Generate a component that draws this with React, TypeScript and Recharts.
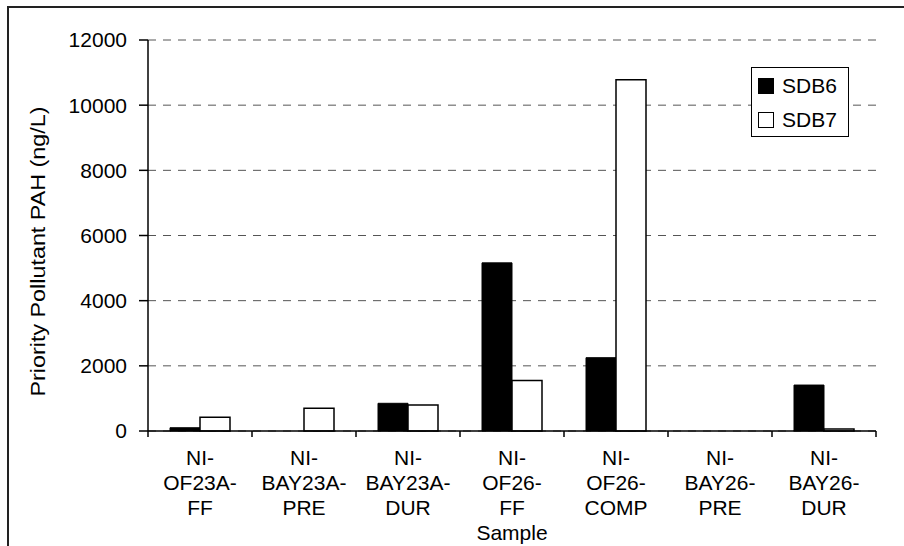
import React from "react";
import { BarChart, Bar, XAxis, YAxis, CartesianGrid } from "recharts";

const samples = [
  "NI-|OF23A-|FF",
  "NI-|BAY23A-|PRE",
  "NI-|BAY23A-|DUR",
  "NI-|OF26-|FF",
  "NI-|OF26-|COMP",
  "NI-|BAY26-|PRE",
  "NI-|BAY26-|DUR",
];
const sdb6 = [100, 0, 850, 5160, 2250, 0, 1410];
const sdb7 = [420, 700, 800, 1550, 10780, 0, 60];
const yTicks = [0, 2000, 4000, 6000, 8000, 10000, 12000];

const data = samples.map((s, i) => ({ sample: s, SDB6: sdb6[i], SDB7: sdb7[i] }));

const FONT = "'Liberation Sans', Arial, sans-serif";
const FS = 21;
const BAND = 104;

function SampleTick(props: any) {
  const { x, y, payload, index } = props;
  const lines = String(payload.value).split("|");
  const axisY = y - 8;
  return (
    <g>
      <line x1={x - BAND / 2} x2={x - BAND / 2} y1={axisY} y2={axisY + 6} stroke="#000" strokeWidth={1.5} />
      {index === samples.length - 1 && (
        <line x1={x + BAND / 2} x2={x + BAND / 2} y1={axisY} y2={axisY + 6} stroke="#000" strokeWidth={1.5} />
      )}
      <text x={x} y={axisY + 34} textAnchor="middle" fontSize={FS} fontFamily={FONT} fill="#000">
        {lines.map((l, i) => (
          <tspan key={i} x={x} dy={i === 0 ? 0 : 25}>{l}</tspan>
        ))}
      </text>
    </g>
  );
}

// y title is a bit stretched along its length in the original
function YTitle(props: any) {
  const vb = props.viewBox || { x: 0, y: 40, width: 148, height: 391 };
  const cx = vb.x + 38;
  const cy = vb.y + vb.height / 2 + 16;
  return (
    <text
      x={cx}
      y={cy}
      transform={`rotate(-90 ${cx} ${cy})`}
      textAnchor="middle"
      dominantBaseline="central"
      fontSize={20}
      fontFamily={FONT}
      fill="#000"
      textLength={290}
      lengthAdjust="spacingAndGlyphs"
    >
      Priority Pollutant PAH (ng/L)
    </text>
  );
}

function LegendBox() {
  const rows = [
    { name: "SDB6", fill: "#000" },
    { name: "SDB7", fill: "#fff" },
  ];
  return (
    <div style={{ position: "absolute", left: 751, top: 67, width: 98, height: 70, border: "1px solid #000", background: "#fff", boxSizing: "border-box", paddingTop: 1 }}>
      {rows.map((r) => (
        <div key={r.name} style={{ height: 34, display: "flex", alignItems: "center", fontFamily: FONT, fontSize: FS, color: "#000" }}>
          <span style={{ display: "inline-block", width: 14, height: 14, marginLeft: 6, marginRight: 8, background: r.fill, border: "1px solid #000" }} />
          {r.name}
        </div>
      ))}
    </div>
  );
}

export default function App() {
  return (
    <div style={{ position: "absolute", left: 0, top: 0, width: 904, height: 546, background: "#fff", overflow: "hidden" }}>
      <div style={{ position: "absolute", left: 7, top: 6, right: -4, bottom: -4, borderTop: "2px solid #222", borderLeft: "2px solid #222" }} />
      <BarChart
        width={904}
        height={546}
        data={data}
        margin={{ top: 40, right: 28, left: 0, bottom: 0 }}
        barSize={30}
        barGap={0}
        style={{ position: "absolute", left: 0, top: 0 }}
      >
        <CartesianGrid vertical={false} stroke="#555" strokeDasharray="8 7" />
        <XAxis
          dataKey="sample"
          height={115}
          tickLine={false}
          axisLine={{ stroke: "#000", strokeWidth: 1.5 }}
          tick={<SampleTick />}
          tickSize={6}
          tickMargin={2}
          interval={0}
          label={{ value: "Sample", position: "insideBottom", offset: 6, fontSize: FS, fontFamily: FONT, fill: "#000" }}
        />
        <XAxis xAxisId="top" dataKey="sample" orientation="top" height={0} tick={false} tickLine={false} axisLine={{ stroke: "#000", strokeWidth: 1.5 }} />
        <YAxis
          width={148}
          domain={[0, 12000]}
          ticks={yTicks}
          interval={0}
          tickSize={9}
          tickMargin={12}
          tickLine={{ stroke: "#000", strokeWidth: 1.5 }}
          axisLine={{ stroke: "#000", strokeWidth: 1.5 }}
          tick={{ fontSize: FS, fontFamily: FONT, fill: "#000" }}
          label={<YTitle />}
        />
        <YAxis yAxisId="right" orientation="right" width={0} domain={[0, 12000]} tick={false} tickLine={false} axisLine={{ stroke: "#000", strokeWidth: 1.5 }} />
        <Bar dataKey="SDB6" fill="#000" stroke="#000" strokeWidth={1} isAnimationActive={false} />
        <Bar dataKey="SDB7" fill="#fff" stroke="#000" strokeWidth={1.5} isAnimationActive={false} />
      </BarChart>
      <LegendBox />
    </div>
  );
}
